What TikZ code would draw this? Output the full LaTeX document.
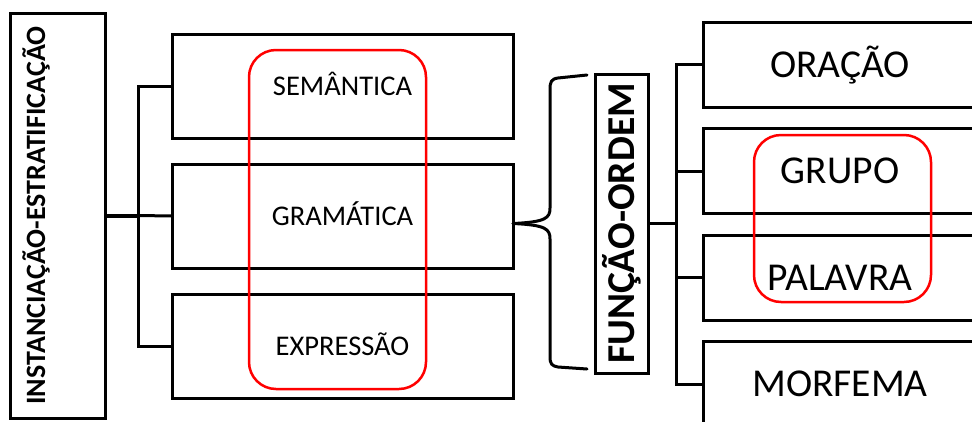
\documentclass[tikz,border=0pt]{standalone}
\usepackage{fontspec}
\setmainfont{Carlito}
\usetikzlibrary{positioning}
\definecolor{lvred}{RGB}{255,0,0}
\tikzset{
  lvBox/.style={draw=black, line width=3pt, fill=white, inner sep=0pt,
                outer sep=0pt},
  lvMid/.style={lvBox, minimum width=341pt, minimum height=104pt,
                font=\fontsize{28.5}{30}\selectfont,
                text height=18.3pt, text depth=0pt},
  lvRank/.style={lvBox, minimum width=274pt, minimum height=85pt,
                 font=\fontsize{39.5}{42}\selectfont,
                 text height=25.4pt, text depth=0pt},
  lvAxis/.style={lvBox, rotate=90, font=\bfseries\fontsize{#1}{#1}\selectfont},
  lvGroup/.style={draw=lvred, line width=2.5pt, rounded corners=27pt,
                  inner sep=0pt},
  lvLink/.style={line width=3pt, draw=black},
  lvBrace/.style={line width=3pt, draw=black, line join=round, line cap=round}
}

\begin{document}
\begin{tikzpicture}[x=1pt, y=-1pt]
  \useasboundingbox (0,0) rectangle (972,421);
  \fill[white] (0,0) rectangle (972,421);
  \clip (0,0) rectangle (972,421);

  % left axis and the three strata (axis boxes are turned, so .south is their right side)
  \node[lvAxis=28, minimum width=405pt, minimum height=95pt,
        text height=18pt, text depth=43pt] (inst) at (57.5,215.5)
        {INSTANCIAÇÃO-ESTRATIFICAÇÃO};
  \node[lvMid] (sem) at (342.5,86) {SEMÂNTICA};
  \node[lvMid, below=26pt of sem] (gram) {GRAMÁTICA};
  \node[lvMid, below=26pt of gram] (expr) {EXPRESSÃO};

  % function-order axis and the rank scale
  \node[lvAxis=39.5, minimum width=299pt, minimum height=53pt,
        text height=25pt, text depth=0pt] (fun) at (621.5,223.5)
        {FUNÇÃO-ORDEM};
  \node[lvRank] (clause) at (840,64.5) {ORAÇÃO};
  \node[lvRank, below=21.5pt of clause] (group) {GRUPO};
  \node[lvRank, below=21.5pt of group] (word) {PALAVRA};
  \node[lvRank, below=21.5pt of word] (morph) {MORFEMA};

  % tree lines
  \coordinate[right=33pt of inst.south] (ljoin);
  \draw[lvLink, line width=4pt] (inst.south) -- (ljoin);
  \draw[lvLink] (sem.west) -| (ljoin) |- (expr.west);
  \draw[lvLink] (ljoin) -- (gram.west);

  \coordinate[right=28pt of fun.south] (rjoin);
  \draw[lvLink] (fun.south) -- (rjoin);
  \draw[lvLink] (clause.west) -| (rjoin) |- (morph.west);
  \draw[lvLink] (group.west) -- (group.west -| rjoin);
  \draw[lvLink] (word.west) -- (word.west -| rjoin);

  % brace from grammar to function-order
  \coordinate (tip) at (gram.east |- fun.center);
  \draw[lvBrace] (587,75) -- (558,78) .. controls (551,79) and (550,82) .. (550,90)
    -- (550,208) .. controls (550,218) and (546,222) .. (tip);
  \draw[lvBrace] (tip) .. controls (546,225) and (550,229) .. (550,239)
    -- (550,357) .. controls (550,364) and (552,366) .. (558,367) -- (587,369);

  % highlighted groups
  \node[lvGroup, minimum width=177pt, minimum height=339pt] (strata) at (337.5,219.5) {};
  \node[lvGroup, minimum width=177pt, minimum height=167pt] (units) at (842.5,218.5) {};
\end{tikzpicture}
\end{document}
